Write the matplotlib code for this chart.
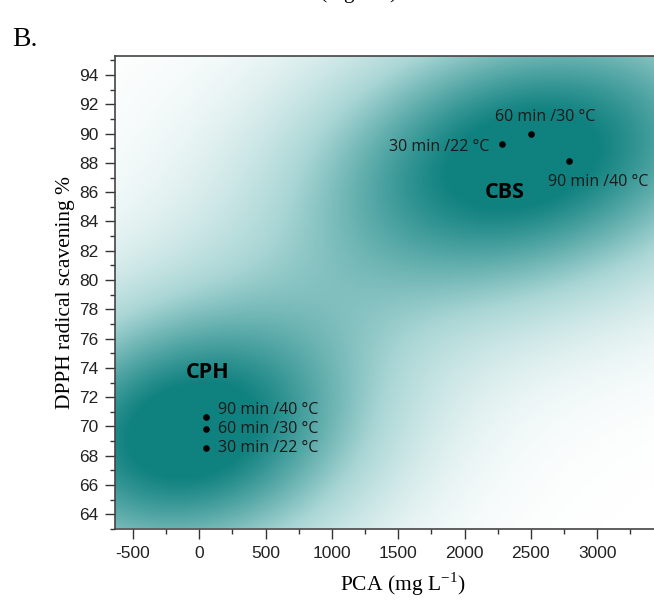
import numpy as np
import matplotlib
matplotlib.use("Agg")
from matplotlib import pyplot as plt
from matplotlib.colors import LinearSegmentedColormap

plt.rcParams['axes.unicode_minus'] = False

# sample points
cbs_labels = ["30 min /22 °C", "60 min /30 °C", "90 min /40 °C"]
cbs_pca = [2283, 2501, 2788]
cbs_dpph = [89.3, 90.0, 88.1]

cph_labels = ["90 min /40 °C", "60 min /30 °C", "30 min /22 °C"]
cph_pca = [50, 50, 50]
cph_dpph = [70.67, 69.85, 68.5]

# shading blobs: centre (PCA, DPPH), spread (PCA, DPPH), tilt
blob_centres = [(2450, 88.3), (-80, 69.5)]
blob_spread = [(1250, 7.2), (1000, 6.6)]
blob_rho = [0.25, 0.15]
blob_gain = 1.1

fig = plt.figure(figsize=(6.54, 6.04), dpi=100)
ax = fig.add_axes([115/654, 1-529/604, 575/654, 473/604])

xmin, xmax = -636, 3700
ymin, ymax = 63.1, 95.3

gx = np.linspace(xmin, xmax, 400)
gy = np.linspace(ymin, ymax, 300)
X, Y = np.meshgrid(gx, gy)
dens = np.zeros_like(X)
for (cx, cy), (sx, sy), r in zip(blob_centres, blob_spread, blob_rho):
    u = (X - cx) / sx
    v = (Y - cy) / sy
    dens += np.exp(-0.5 * (u**2 - 2*r*u*v + v**2) / (1 - r**2))
dens = np.clip(dens * blob_gain, 0, 1)

cmap = LinearSegmentedColormap.from_list("teal", [(0, "#ffffff"), (0.45, "#a9d6d5"), (1, "#0f817f")])
ax.imshow(dens, extent=[xmin, xmax, ymin, ymax], origin="lower", aspect="auto",
          cmap=cmap, vmin=0, vmax=1, interpolation="bilinear", zorder=0)

ax.scatter(cbs_pca, cbs_dpph, s=14, color="black", zorder=3)
ax.scatter(cph_pca, cph_dpph, s=14, color="black", zorder=3)

afont = dict(family="Open Sans", fontsize=11.5, color="#1a1a1a")
ax.annotate(cbs_labels[0], (cbs_pca[0], cbs_dpph[0]), xytext=(-9, -2), textcoords="offset points",
            ha="right", va="center", **afont)
ax.annotate(cbs_labels[1], (cbs_pca[1], cbs_dpph[1]), xytext=(10, 12), textcoords="offset points",
            ha="center", va="center", **afont)
ax.annotate(cbs_labels[2], (cbs_pca[2], cbs_dpph[2]), xytext=(-15, -15), textcoords="offset points",
            ha="left", va="center", **afont)
cph_off = [5, 0, 0]
for lab, xx, yy, dy in zip(cph_labels, cph_pca, cph_dpph, cph_off):
    ax.annotate(lab, (xx, yy), xytext=(9, dy), textcoords="offset points",
                ha="left", va="center", **afont)

ax.text(2305, 86.0, "CBS", family="Open Sans", fontsize=15.5, fontweight="bold", ha="center", va="center")
ax.text(66, 73.7, "CPH", family="Open Sans", fontsize=15.5, fontweight="bold", ha="center", va="center")

ax.set_xlim(xmin, xmax)
ax.set_ylim(ymin, ymax)
ax.set_xticks(np.arange(-500, 3001, 500))
ax.set_xticks(np.arange(-500, 3501, 250), minor=True)
ax.set_yticks(np.arange(64, 95, 2))
ax.set_yticks(np.arange(63, 96, 1), minor=True)
ax.tick_params(which="major", direction="out", length=7, width=1, labelsize=12.5, pad=5, color="#333333")
ax.tick_params(which="minor", direction="out", length=3.5, width=1, color="#333333")
for lbl in ax.get_xticklabels() + ax.get_yticklabels():
    lbl.set_family("Liberation Sans")
    lbl.set_color("#222222")
for sp in ax.spines.values():
    sp.set_color("#444444")
    sp.set_linewidth(1.2)

ax.set_xlabel("PCA (mg L$^{\\mathregular{-1}}$)", family="Liberation Serif", fontsize=15.5, labelpad=7)
ax.set_ylabel("DPPH radical scavening %", family="Liberation Serif", fontsize=15.5, labelpad=3)

fig.text(12/654, 1-40/604, "B.", family="Liberation Serif", fontsize=20, va="center", ha="left")
# bottom edge of the panel above, cut off by the frame
fig.text(335/654, 1+1/604, "PCA (mg L$^{\\mathregular{-1}}$)", family="Liberation Serif", fontsize=15.5,
         ha="center", va="baseline")

fig.savefig("out.png", dpi=100)
